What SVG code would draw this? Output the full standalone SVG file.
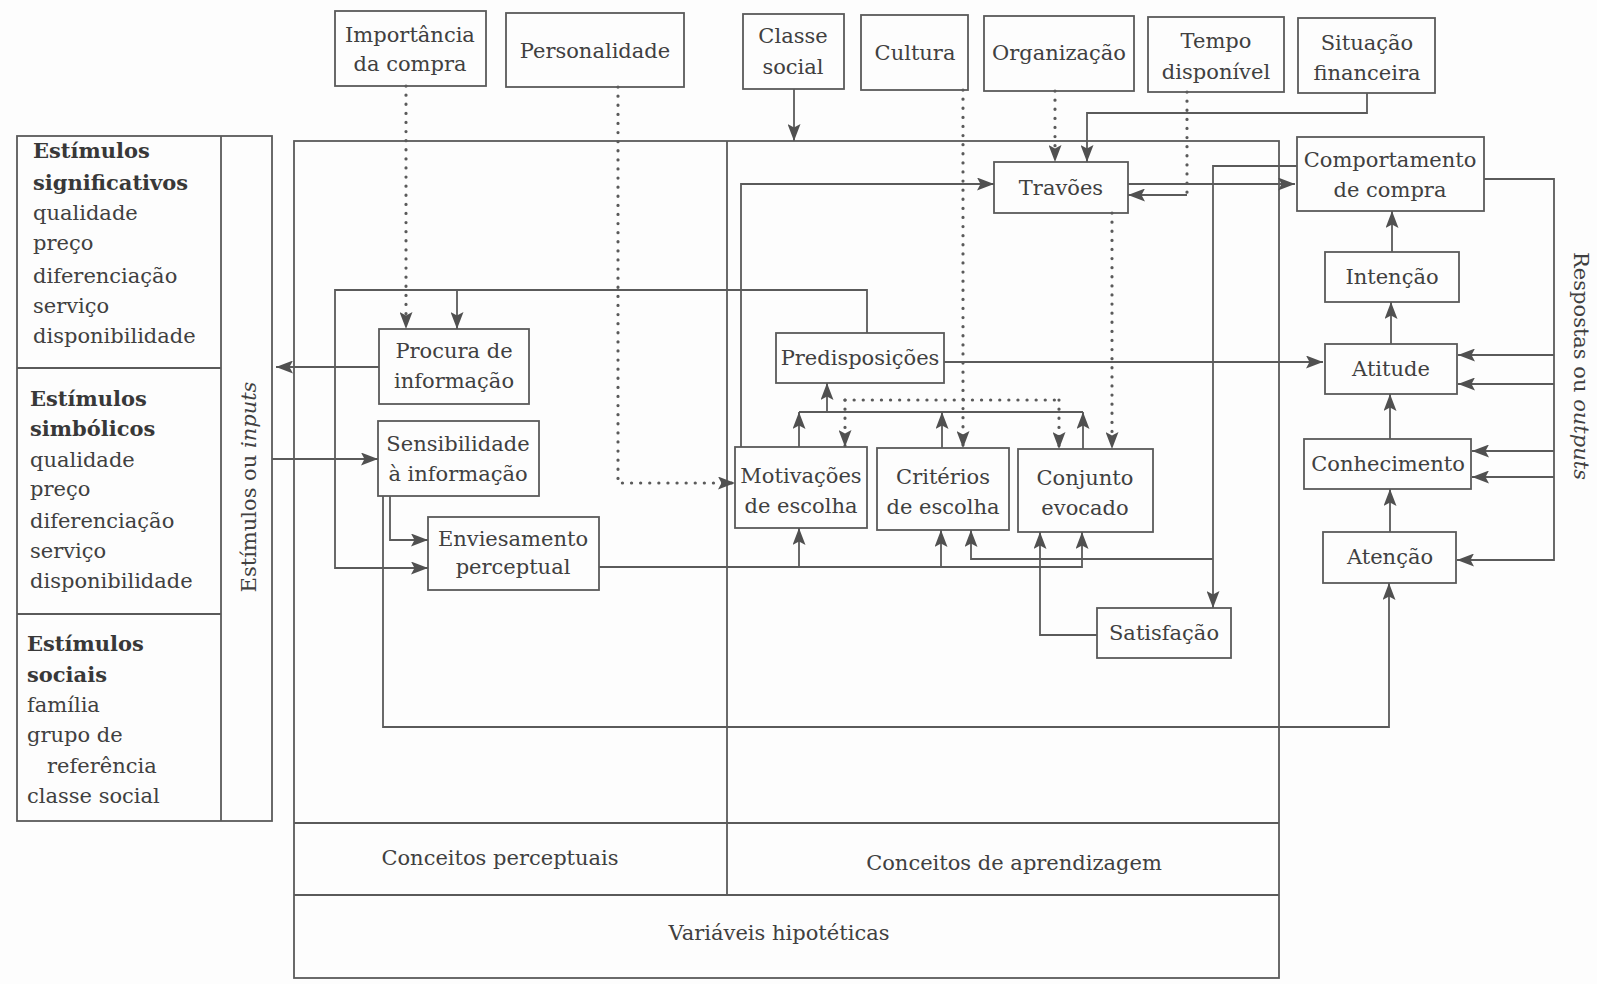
<svg xmlns="http://www.w3.org/2000/svg" width="1597" height="984" viewBox="0 0 1597 984">
  <defs>
    <style>
      .box { fill: none; stroke: #5a5a5a; stroke-width: 1.8; }
      .ln { fill: none; stroke: #5a5a5a; stroke-width: 1.8; }
      .dot { fill: none; stroke: #5a5a5a; stroke-width: 3.2; stroke-dasharray: 0.1 9; stroke-linecap: round; }
      .t { font-family: "DejaVu Serif", "Liberation Serif", serif; font-size: 21px; fill: #404040; text-anchor: middle; }
      .l { text-anchor: start; }
      .b { font-weight: bold; fill: #383838; }
      .i { font-style: italic; }
    </style>
    <marker id="ah" viewBox="0 0 17 13" refX="17" refY="6.5" markerWidth="17" markerHeight="13" markerUnits="userSpaceOnUse" orient="auto">
      <path d="M0,0 L17,6.5 L0,13 L3.5,6.5 z" fill="#505050"/>
    </marker>
  </defs>

  <rect x="0" y="0" width="1597" height="984" fill="#fdfdfd"/>

  <!-- Input stimuli panel -->
  <g id="estimulos">
    <rect class="box" x="17" y="136" width="255" height="685"/>
    <line class="ln" x1="221" y1="136" x2="221" y2="821"/>
    <line class="ln" x1="17" y1="368" x2="221" y2="368"/>
    <line class="ln" x1="17" y1="614" x2="221" y2="614"/>
    <text class="t l b" x="33" y="158">Estímulos</text>
    <text class="t l b" x="33" y="190">significativos</text>
    <text class="t l" x="33" y="220">qualidade</text>
    <text class="t l" x="33" y="250">preço</text>
    <text class="t l" x="33" y="283">diferenciação</text>
    <text class="t l" x="33" y="313">serviço</text>
    <text class="t l" x="33" y="343">disponibilidade</text>
    <text class="t l b" x="30" y="406">Estímulos</text>
    <text class="t l b" x="30" y="436">simbólicos</text>
    <text class="t l" x="30" y="467">qualidade</text>
    <text class="t l" x="30" y="496">preço</text>
    <text class="t l" x="30" y="528">diferenciação</text>
    <text class="t l" x="30" y="558">serviço</text>
    <text class="t l" x="30" y="588">disponibilidade</text>
    <text class="t l b" x="27" y="651">Estímulos</text>
    <text class="t l b" x="27" y="682">sociais</text>
    <text class="t l" x="27" y="712">família</text>
    <text class="t l" x="27" y="742">grupo de</text>
    <text class="t l" x="47" y="773">referência</text>
    <text class="t l" x="27" y="803">classe social</text>
    <text class="t" transform="translate(256 487) rotate(-90)">Estímulos ou <tspan class="i">inputs</tspan></text>
  </g>

  <!-- Hypothetical variables frame -->
  <g id="variaveis">
    <rect class="box" x="294" y="141" width="985" height="837"/>
    <line class="ln" x1="727" y1="141" x2="727" y2="895"/>
    <line class="ln" x1="294" y1="823" x2="1279" y2="823"/>
    <line class="ln" x1="294" y1="895" x2="1279" y2="895"/>
    <text class="t" x="500" y="865">Conceitos perceptuais</text>
    <text class="t" x="1014" y="870">Conceitos de aprendizagem</text>
    <text class="t" x="779" y="940">Variáveis hipotéticas</text>
  </g>

  <!-- Exogenous variables -->
  <g id="importancia">
    <rect class="box" x="335" y="11" width="151" height="75"/>
    <text class="t" x="410" y="42">Importância</text>
    <text class="t" x="410" y="71">da compra</text>
  </g>
  <g id="personalidade">
    <rect class="box" x="506" y="13" width="178" height="74"/>
    <text class="t" x="595" y="58">Personalidade</text>
  </g>
  <g id="classe">
    <rect class="box" x="743" y="14" width="101" height="75"/>
    <text class="t" x="793" y="43">Classe</text>
    <text class="t" x="793" y="74">social</text>
  </g>
  <g id="cultura">
    <rect class="box" x="861" y="15" width="107" height="75"/>
    <text class="t" x="915" y="60">Cultura</text>
  </g>
  <g id="organizacao">
    <rect class="box" x="984" y="16" width="150" height="75"/>
    <text class="t" x="1059" y="60">Organização</text>
  </g>
  <g id="tempo">
    <rect class="box" x="1148" y="17" width="136" height="75"/>
    <text class="t" x="1216" y="48">Tempo</text>
    <text class="t" x="1216" y="79">disponível</text>
  </g>
  <g id="situacao">
    <rect class="box" x="1298" y="18" width="137" height="75"/>
    <text class="t" x="1367" y="50">Situação</text>
    <text class="t" x="1367" y="80">financeira</text>
  </g>

  <!-- Perceptual constructs -->
  <g id="procura">
    <rect class="box" x="379" y="329" width="150" height="75"/>
    <text class="t" x="454" y="358">Procura de</text>
    <text class="t" x="454" y="388">informação</text>
  </g>
  <g id="sensibilidade">
    <rect class="box" x="378" y="421" width="161" height="75"/>
    <text class="t" x="458" y="451">Sensibilidade</text>
    <text class="t" x="458" y="481">à informação</text>
  </g>
  <g id="enviesamento">
    <rect class="box" x="428" y="517" width="171" height="73"/>
    <text class="t" x="513" y="546">Enviesamento</text>
    <text class="t" x="513" y="574">perceptual</text>
  </g>

  <!-- Learning constructs -->
  <g id="predisposicoes">
    <rect class="box" x="776" y="333" width="168" height="50"/>
    <text class="t" x="860" y="365">Predisposições</text>
  </g>
  <g id="motivacoes">
    <rect class="box" x="735" y="447" width="132" height="81"/>
    <text class="t" x="801" y="483">Motivações</text>
    <text class="t" x="801" y="513">de escolha</text>
  </g>
  <g id="criterios">
    <rect class="box" x="877" y="448" width="132" height="82"/>
    <text class="t" x="943" y="484">Critérios</text>
    <text class="t" x="943" y="514">de escolha</text>
  </g>
  <g id="conjunto">
    <rect class="box" x="1018" y="449" width="135" height="83"/>
    <text class="t" x="1085" y="485">Conjunto</text>
    <text class="t" x="1085" y="515">evocado</text>
  </g>
  <g id="satisfacao">
    <rect class="box" x="1097" y="608" width="134" height="50"/>
    <text class="t" x="1164" y="640">Satisfação</text>
  </g>
  <g id="travoes">
    <rect class="box" x="994" y="162" width="134" height="51"/>
    <text class="t" x="1061" y="195">Travões</text>
  </g>

  <!-- Outputs -->
  <g id="comportamento">
    <rect class="box" x="1297" y="137" width="187" height="74"/>
    <text class="t" x="1390" y="167">Comportamento</text>
    <text class="t" x="1390" y="197">de compra</text>
  </g>
  <g id="intencao">
    <rect class="box" x="1325" y="252" width="134" height="50"/>
    <text class="t" x="1392" y="284">Intenção</text>
  </g>
  <g id="atitude">
    <rect class="box" x="1325" y="344" width="132" height="50"/>
    <text class="t" x="1391" y="376">Atitude</text>
  </g>
  <g id="conhecimento">
    <rect class="box" x="1304" y="439" width="167" height="50"/>
    <text class="t" x="1388" y="471">Conhecimento</text>
  </g>
  <g id="atencao">
    <rect class="box" x="1323" y="532" width="133" height="51"/>
    <text class="t" x="1390" y="564">Atenção</text>
  </g>
  <g id="respostas">
    <text class="t" transform="translate(1574 366) rotate(90)">Respostas ou <tspan class="i">outputs</tspan></text>
  </g>

  <!-- Connectors -->
  <g id="connectors">
    <!-- dotted influences of the exogenous variables -->
    <path class="dot" d="M406,86 V329" marker-end="url(#ah)"/>
    <path class="dot" d="M618,87 V483 H735" marker-end="url(#ah)"/>
    <path class="dot" d="M963,90 V448" marker-end="url(#ah)"/>
    <path class="dot" d="M845,400 H1059"/>
    <path class="dot" d="M845,400 V447" marker-end="url(#ah)"/>
    <path class="dot" d="M1059,400 V449" marker-end="url(#ah)"/>
    <path class="dot" d="M1055,91 V162" marker-end="url(#ah)"/>
    <path class="dot" d="M1187,92 V195"/>
    <path class="ln" d="M1187,195 H1128" marker-end="url(#ah)"/>
    <path class="dot" d="M1112,213 V449" marker-end="url(#ah)"/>

    <!-- solid influences -->
    <path class="ln" d="M794,89 V141" marker-end="url(#ah)"/>
    <path class="ln" d="M1367,93 V113 H1087 V162" marker-end="url(#ah)"/>

    <!-- predispositions feed back to search and bias -->
    <path class="ln" d="M867,333 V290 H335 V568 H428" marker-end="url(#ah)"/>
    <path class="ln" d="M457,290 V329" marker-end="url(#ah)"/>

    <!-- stimuli in and out -->
    <path class="ln" d="M379,367 H276" marker-end="url(#ah)"/>
    <path class="ln" d="M272,459 H378" marker-end="url(#ah)"/>

    <!-- sensitivity branches -->
    <path class="ln" d="M390,496 V540 H428" marker-end="url(#ah)"/>
    <path class="ln" d="M383,496 V727 H1389 V583" marker-end="url(#ah)"/>

    <!-- perceptual bias into learning constructs -->
    <path class="ln" d="M599,567 H1082 V532" marker-end="url(#ah)"/>
    <path class="ln" d="M799,567 V528" marker-end="url(#ah)"/>
    <path class="ln" d="M941,567 V530" marker-end="url(#ah)"/>

    <!-- learning constructs up to predispositions -->
    <path class="ln" d="M799,412 H1083"/>
    <path class="ln" d="M799,447 V412" marker-end="url(#ah)"/>
    <path class="ln" d="M942,448 V412" marker-end="url(#ah)"/>
    <path class="ln" d="M1083,449 V412" marker-end="url(#ah)"/>
    <path class="ln" d="M827,412 V383" marker-end="url(#ah)"/>

    <!-- motives to inhibitors, inhibitors to purchase -->
    <path class="ln" d="M741,447 V184 H994" marker-end="url(#ah)"/>
    <path class="ln" d="M1128,184 H1295" marker-end="url(#ah)"/>

    <!-- predispositions to attitude -->
    <path class="ln" d="M944,362 H1323" marker-end="url(#ah)"/>

    <!-- purchase to satisfaction and back -->
    <path class="ln" d="M1297,166 H1213 V608" marker-end="url(#ah)"/>
    <path class="ln" d="M1213,559 H971 V530" marker-end="url(#ah)"/>
    <path class="ln" d="M1097,635 H1040 V532" marker-end="url(#ah)"/>

    <!-- output chain -->
    <path class="ln" d="M1392,252 V211" marker-end="url(#ah)"/>
    <path class="ln" d="M1391,344 V302" marker-end="url(#ah)"/>
    <path class="ln" d="M1390,439 V394" marker-end="url(#ah)"/>
    <path class="ln" d="M1390,532 V489" marker-end="url(#ah)"/>

    <!-- output feedback loop -->
    <path class="ln" d="M1484,179 H1554 V560 H1457" marker-end="url(#ah)"/>
    <path class="ln" d="M1554,355 H1458" marker-end="url(#ah)"/>
    <path class="ln" d="M1554,384 H1458" marker-end="url(#ah)"/>
    <path class="ln" d="M1554,451 H1472" marker-end="url(#ah)"/>
    <path class="ln" d="M1554,477 H1472" marker-end="url(#ah)"/>
  </g>
</svg>
